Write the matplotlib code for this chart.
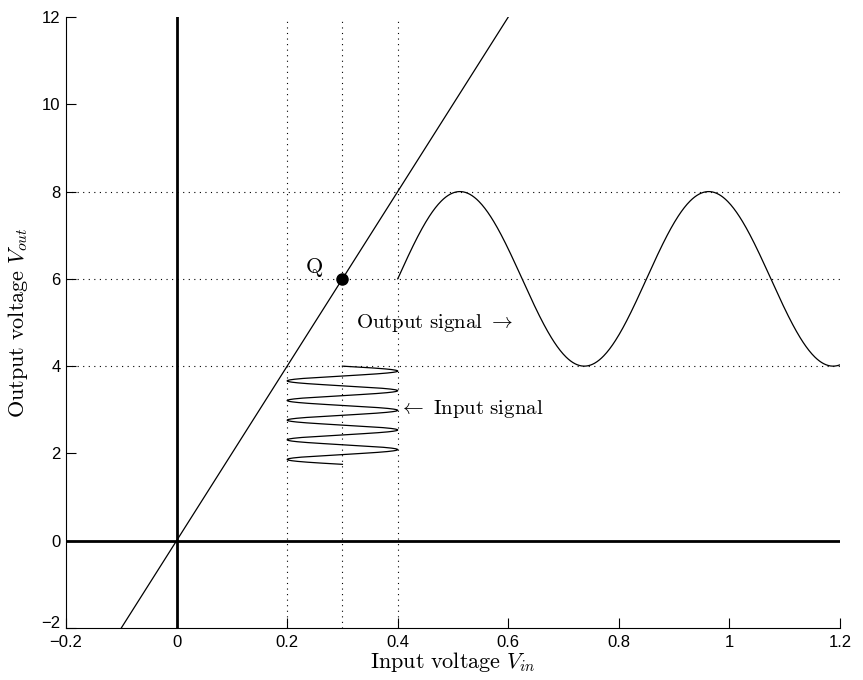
import numpy as np
import matplotlib
matplotlib.use("Agg")
import matplotlib.pyplot as plt
import matplotlib.transforms as mtransforms

plt.rcParams['mathtext.fontset'] = 'cm'
plt.rcParams['font.family'] = ['Liberation Sans', 'DejaVu Sans']

# Data
gain = 20.0                      # transfer line slope V_out = gain * V_in
line_x = [-0.1, 0.6]
q_point = (0.3, 6.0)             # operating point Q
grid_x = [0.2, 0.3, 0.4]
grid_y = [4, 6, 8]

# input signal (drawn vertically, time running downward)
in_center = 0.3
in_amp = 0.1
in_top = 4.0
in_period = 0.45
in_cycles = 5

# output signal (drawn horizontally)
out_center = 6.0
out_amp = 2.0
out_start = 0.4
out_end = 1.2
out_period = 0.45

xticks = [-0.2, 0, 0.2, 0.4, 0.6, 0.8, 1, 1.2]
xticklabels = ['\u22120.2', '0', '0.2', '0.4', '0.6', '0.8', '1', '1.2']
yticks = [-2, 0, 2, 4, 6, 8, 10, 12]
yticklabels = ['\u22122', '0', '2', '4', '6', '8', '10', '12']

fig = plt.figure(figsize=(8.63, 6.8), dpi=100)
ax = fig.add_axes([66/863, 52/680, 774/863, 611/680])

for gx in grid_x:
    ax.axvline(gx, color='black', linestyle=(0, (1, 4)), linewidth=0.8, zorder=1)
for gy in grid_y:
    ax.axhline(gy, color='black', linestyle=(0, (1, 4)), linewidth=0.8, zorder=1)

ax.axhline(0, color='black', linewidth=2, zorder=2)
ax.axvline(0, color='black', linewidth=2, zorder=2)

lx = np.array(line_x)
ax.plot(lx, gain * lx, color='black', linewidth=0.9, zorder=3)

t = np.linspace(0, in_cycles * in_period, 600)
ax.plot(in_center + in_amp * np.sin(2 * np.pi * t / in_period), in_top - t,
        color='black', linewidth=0.9, zorder=3)

xo = np.linspace(out_start, out_end, 600)
ax.plot(xo, out_center + out_amp * np.sin(2 * np.pi * (xo - out_start) / out_period),
        color='black', linewidth=0.9, zorder=3)

ax.plot([q_point[0]], [q_point[1]], 'o', color='black', markersize=8, zorder=4)
ax.text(0.232, 6.25, r'$\mathrm{Q}$', fontsize=16, ha='left', va='center')
ax.text(0.324, 5.0, r'$\mathrm{Output\ signal}\ \rightarrow$', fontsize=15, ha='left', va='center')
ax.text(0.402, 3.02, r'$\leftarrow\ \mathrm{Input\ signal}$', fontsize=15, ha='left', va='center')

ax.set_xlim(-0.2, 1.2)
ax.set_ylim(-2, 12)
ax.set_xticks(xticks)
ax.set_xticklabels(xticklabels)
ax.set_yticks(yticks)
ax.set_yticklabels(yticklabels)
ax.tick_params(direction='in', length=7, width=0.8, labelsize=12)
ax.tick_params(axis='x', pad=5)
ax.tick_params(axis='y', pad=4)
ax.spines['top'].set_visible(False)
ax.spines['right'].set_visible(False)
ax.spines['left'].set_linewidth(0.8)
ax.spines['bottom'].set_linewidth(0.8)

# raise the bottom y label a bit so it sits above the -0.2 label (as in reference)
lab = ax.get_yticklabels()[0]
lab.set_transform(lab.get_transform() + mtransforms.ScaledTranslation(0, 6/100, fig.dpi_scale_trans))

ax.set_xlabel(r'$\mathrm{Input\ voltage}\ V_{in}$', fontsize=16, labelpad=0)
ax.set_ylabel(r'$\mathrm{Output\ voltage}\ V_{out}$', fontsize=16, labelpad=8)

fig.savefig('out.png', dpi=100)
